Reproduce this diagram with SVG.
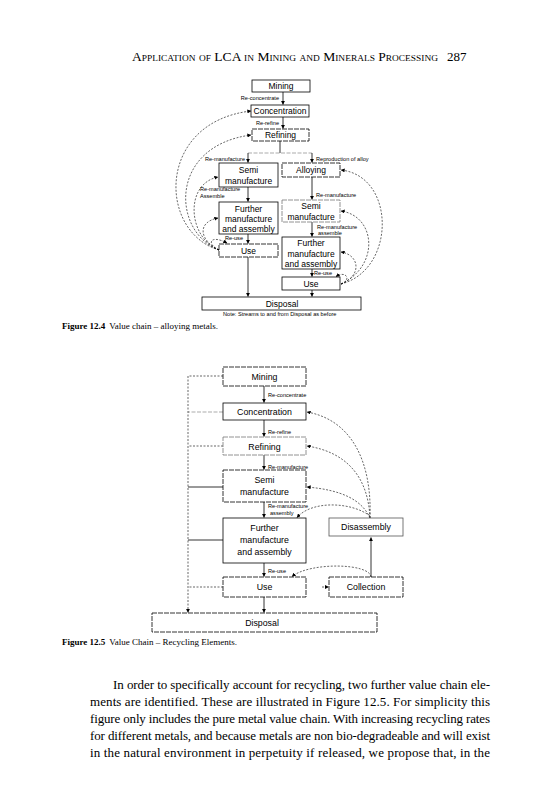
<svg xmlns="http://www.w3.org/2000/svg" width="560" height="800" viewBox="0 0 560 800">
<defs>
<marker id="ah" viewBox="0 0 6 6" refX="5.5" refY="3" markerWidth="4" markerHeight="4" markerUnits="userSpaceOnUse" orient="auto"><path d="M0,0 L6,3 L0,6 z" fill="#000"/></marker>
<style>
.bx{fill:#fff;stroke:#000;stroke-width:0.8}
.bd{fill:#fff;stroke:#000;stroke-width:0.8;stroke-dasharray:5,1}
.bg{fill:#fff;stroke:#777;stroke-width:0.8;stroke-dasharray:5,1}
.t{font-family:"Liberation Sans",Arial,sans-serif;font-size:8.5px;text-anchor:middle;fill:#000}
.t2{font-family:"Liberation Sans",Arial,sans-serif;font-size:8.8px;text-anchor:middle;fill:#000}
.s{font-family:"Liberation Sans",Arial,sans-serif;font-size:5.6px;fill:#000}
.ln{fill:none;stroke:#000;stroke-width:0.8}
.dl{fill:none;stroke:#000;stroke-width:0.6;stroke-dasharray:2,1.5}
.gl{fill:none;stroke:#888;stroke-width:0.7;stroke-dasharray:4,1.5}
.serif{font-family:"Liberation Serif","Times New Roman",serif;fill:#000}
</style>
</defs>
<rect width="560" height="800" fill="#fff"/>

<!-- Header -->
<text class="serif" x="132" y="61" font-size="13" font-variant="small-caps" textLength="306" lengthAdjust="spacingAndGlyphs">Application of LCA in Mining and Minerals Processing</text>
<text class="serif" x="447" y="61" font-size="13">287</text>

<!-- ===== Figure 12.4 ===== -->
<g id="fig124-connectors">
<line class="ln" x1="283" y1="92" x2="283" y2="104.5" marker-end="url(#ah)"/>
<line class="ln" x1="283" y1="117" x2="283" y2="128.5" marker-end="url(#ah)"/>
<line class="ln" x1="280" y1="141" x2="280" y2="153"/>
<line class="gl" x1="248" y1="153" x2="312" y2="153"/>
<line class="ln" x1="248" y1="153" x2="248" y2="162.5" marker-end="url(#ah)"/>
<line class="ln" x1="312" y1="153" x2="312" y2="162.5" marker-end="url(#ah)"/>
<line class="ln" x1="248" y1="187" x2="248" y2="201.5" marker-end="url(#ah)"/>
<line class="ln" x1="248" y1="234" x2="248" y2="243.5" marker-end="url(#ah)"/>
<line class="ln" x1="248" y1="257" x2="248" y2="296.5" marker-end="url(#ah)"/>
<line class="ln" x1="312" y1="177" x2="312" y2="199.5" marker-end="url(#ah)"/>
<line class="ln" x1="312" y1="222" x2="312" y2="236.5" marker-end="url(#ah)"/>
<line class="ln" x1="312" y1="269" x2="312" y2="276.5" marker-end="url(#ah)"/>
<line class="ln" x1="312" y1="290" x2="312" y2="296.5" marker-end="url(#ah)"/>
<!-- left recycling curves -->
<path class="dl" d="M219,250 C158,232 156,122 251,111" marker-end="url(#ah)"/>
<path class="dl" d="M219,250 C172,232 168,146 251,135" marker-end="url(#ah)"/>
<path class="dl" d="M219,250 C188,238 184,184 218,177" marker-end="url(#ah)"/>
<path class="dl" d="M219,250 C199,240 197,222 218,218" marker-end="url(#ah)"/>
<path class="dl" d="M219,250 C206,244 210,234 227,243" marker-end="url(#ah)"/>
<!-- right recycling curves -->
<path class="dl" d="M341,284 C396,270 396,176 341,170" marker-end="url(#ah)"/>
<path class="dl" d="M341,284 C380,266 376,216 341,211" marker-end="url(#ah)"/>
<path class="dl" d="M341,284 C362,276 360,255 341,252" marker-end="url(#ah)"/>
<path class="dl" d="M341,284 C352,280 346,270 336,276.5" marker-end="url(#ah)"/>
</g>

<g id="n-mining1"><rect class="bx" x="252" y="80" width="58" height="12"/><text class="t" x="281" y="89.3">Mining</text></g>
<g id="n-conc1"><rect class="bx" x="251" y="105" width="58" height="12"/><text class="t" x="280" y="114.3">Concentration</text></g>
<g id="n-ref1"><rect class="bd" x="252" y="129" width="57" height="12"/><text class="t" x="280.5" y="138.3">Refining</text></g>
<g id="n-semi1"><rect class="bx" x="219" y="163" width="59" height="24"/><text class="t" x="248.5" y="173">Semi</text><text class="t" x="248.5" y="184">manufacture</text></g>
<g id="n-alloy"><rect class="bd" x="282" y="163" width="58" height="14"/><text class="t" x="311" y="173.3">Alloying</text></g>
<g id="n-further1"><rect class="bx" x="219" y="202" width="59" height="32"/><text class="t" x="248.5" y="211.5">Further</text><text class="t" x="248.5" y="222">manufacture</text><text class="t" x="248.5" y="232.3">and assembly</text></g>
<g id="n-use1"><rect class="bd" x="219" y="244" width="59" height="13"/><text class="t" x="248.5" y="253.8">Use</text></g>
<g id="n-semi2"><rect class="bg" x="282" y="200" width="58" height="22"/><text class="t" x="311" y="209">Semi</text><text class="t" x="311" y="219.5">manufacture</text></g>
<g id="n-further2"><rect class="bx" x="282" y="237" width="58" height="32"/><text class="t" x="311" y="246">Further</text><text class="t" x="311" y="256.5">manufacture</text><text class="t" x="311" y="267">and assembly</text></g>
<g id="n-use2"><rect class="bx" x="282" y="277" width="58" height="13"/><text class="t" x="311" y="286.8">Use</text></g>
<g id="n-disp1"><rect class="bx" x="202" y="297" width="159" height="13"/><text class="t" x="282" y="306.8">Disposal</text></g>

<g id="labels124">
<text class="s" x="279" y="100" text-anchor="end">Re-concentrate</text>
<text class="s" x="279" y="125" text-anchor="end">Re-refine</text>
<text class="s" x="245" y="161" text-anchor="end">Re-manufacture</text>
<text class="s" x="316" y="161">Reproduction of alloy</text>
<text class="s" x="200" y="191">Re-manufacture</text>
<text class="s" x="200" y="198">Assemble</text>
<text class="s" x="225" y="240">Re-use</text>
<text class="s" x="316" y="197">Re-manufacture</text>
<text class="s" x="317" y="229">Re-manufacture</text>
<text class="s" x="318" y="235">assemble</text>
<text class="s" x="314" y="275">Re-use</text>
<text class="s" x="223" y="316">Note: Streams to and from Disposal as before</text>
</g>
<text class="serif" x="62" y="329" font-size="9"><tspan font-weight="bold">Figure 12.4</tspan><tspan dx="4">Value chain – alloying metals.</tspan></text>

<!-- ===== Figure 12.5 ===== -->
<g id="fig125-connectors">
<line class="dl" x1="223" y1="376" x2="188" y2="376"/>
<line class="gl" x1="223" y1="412" x2="188" y2="412"/>
<line class="dl" x1="223" y1="446" x2="188" y2="446"/>
<line class="ln" x1="223" y1="487" x2="188" y2="487" stroke-width="0.6"/>
<line class="ln" x1="223" y1="540" x2="188" y2="540" stroke-width="0.6"/>
<line class="dl" x1="223" y1="587" x2="188" y2="587"/>
<line class="dl" x1="188" y1="376" x2="188" y2="612.5" marker-end="url(#ah)"/>
<line class="ln" x1="264" y1="386" x2="264" y2="402.5" marker-end="url(#ah)"/>
<line class="ln" x1="264" y1="420" x2="264" y2="436.5" marker-end="url(#ah)"/>
<line class="ln" x1="264" y1="455" x2="264" y2="469.5" marker-end="url(#ah)"/>
<line class="ln" x1="264" y1="502" x2="264" y2="517.5" marker-end="url(#ah)"/>
<line class="ln" x1="264" y1="563" x2="264" y2="576.5" marker-end="url(#ah)"/>
<line class="ln" x1="264" y1="597" x2="264" y2="612.5" marker-end="url(#ah)"/>
<line class="ln" x1="371" y1="577" x2="371" y2="537.5" marker-end="url(#ah)"/>
<path class="dl" d="M370,518 C372,462 352,420 307,412" marker-end="url(#ah)"/>
<path class="dl" d="M370,518 C368,476 346,452 307,446" marker-end="url(#ah)"/>
<path class="dl" d="M370,518 C362,500 342,490 307,487" marker-end="url(#ah)"/>
<path class="dl" d="M370,516 C352,502 312,500 297,517.5" marker-end="url(#ah)"/>
<path class="dl" d="M371,577 C370,563 310,562 292,576.5" marker-end="url(#ah)"/>
<line class="dl" x1="322" y1="587" x2="328.5" y2="587" marker-end="url(#ah)"/>
</g>

<g id="n-mining2"><rect class="bd" x="223" y="367" width="83" height="19"/><text class="t2" x="264.5" y="380">Mining</text></g>
<g id="n-conc2"><rect class="bx" x="223" y="403" width="83" height="17"/><text class="t2" x="264.5" y="415">Concentration</text></g>
<g id="n-ref2"><rect class="bg" x="223" y="437" width="83" height="18"/><text class="t2" x="264.5" y="449.5">Refining</text></g>
<g id="n-semi3"><rect class="bd" x="223" y="470" width="83" height="32"/><text class="t2" x="264.5" y="483">Semi</text><text class="t2" x="264.5" y="495">manufacture</text></g>
<g id="n-further3"><rect class="bx" x="223" y="518" width="83" height="45"/><text class="t2" x="264.5" y="531">Further</text><text class="t2" x="264.5" y="543">manufacture</text><text class="t2" x="264.5" y="555">and assembly</text></g>
<g id="n-use3"><rect class="bd" x="223" y="577" width="83" height="20"/><text class="t2" x="264.5" y="590">Use</text></g>
<g id="n-disp2"><rect class="bd" x="152" y="613" width="225" height="19"/><text class="t2" x="262" y="626">Disposal</text></g>
<g id="n-disasm"><rect class="bx" x="329" y="518" width="74" height="18" style="stroke:#555"/><text class="t2" x="366" y="530">Disassembly</text></g>
<g id="n-collect"><rect class="bd" x="329" y="577" width="74" height="20"/><text class="t2" x="366" y="590">Collection</text></g>

<g id="labels125">
<text class="s" x="268" y="397">Re-concentrate</text>
<text class="s" x="268" y="434">Re-refine</text>
<text class="s" x="268" y="469">Re-manufacture</text>
<text class="s" x="268" y="508">Re-manufacture</text>
<text class="s" x="270" y="515">assembly</text>
<text class="s" x="268" y="573">Re-use</text>
</g>
<text class="serif" x="62" y="645" font-size="9"><tspan font-weight="bold">Figure 12.5</tspan><tspan dx="4">Value Chain – Recycling Elements.</tspan></text>

<!-- Body paragraph -->
<g class="serif" font-size="13">
<text x="113" y="689" textLength="377" lengthAdjust="spacing">In order to specifically account for recycling, two further value chain ele-</text>
<text x="90" y="706" textLength="400" lengthAdjust="spacing">ments are identified. These are illustrated in Figure 12.5. For simplicity this</text>
<text x="90" y="723" textLength="400" lengthAdjust="spacing">figure only includes the pure metal value chain. With increasing recycling rates</text>
<text x="90" y="740" textLength="400" lengthAdjust="spacing">for different metals, and because metals are non bio-degradeable and will exist</text>
<text x="90" y="757" textLength="400" lengthAdjust="spacing">in the natural environment in perpetuity if released, we propose that, in the</text>
</g>
</svg>
